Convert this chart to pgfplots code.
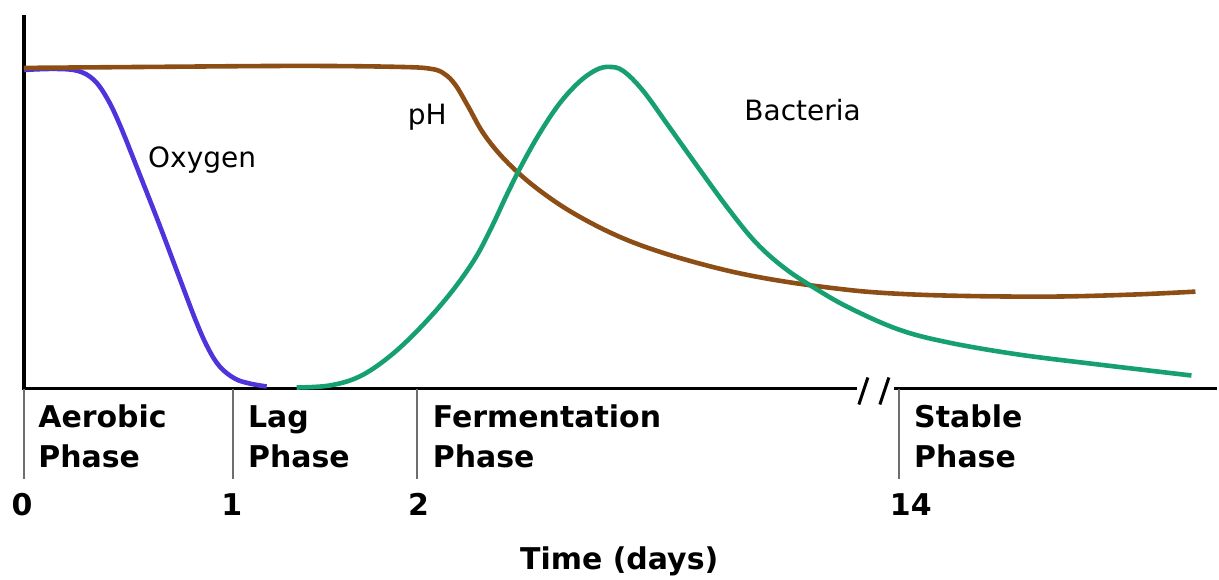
\documentclass[border=0pt]{standalone}
\usepackage{pgfplots}
\pgfplotsset{compat=1.18}
\usepackage{fontspec}
\setmainfont{DejaVu Sans}
\definecolor{oxy}{RGB}{78,52,218}
\definecolor{phc}{RGB}{140,78,20}
\definecolor{bac}{RGB}{22,160,112}
\definecolor{tickg}{RGB}{110,110,110}
\begin{document}
\begin{tikzpicture}
\begin{axis}[
  scale only axis, width=609.5pt, height=290pt,
  xmin=0, xmax=1219, ymin=-192, ymax=388,
  hide axis, clip=false,
]
\path (axis cs:0,-192) rectangle (axis cs:1219,388);
% axes
\draw[line width=1.6pt] (axis cs:24,373) -- (axis cs:24,-1) -- (axis cs:858,-1);
\draw[line width=1.6pt] (axis cs:895,-1) -- (axis cs:1219,-1);
\draw[line width=1.5pt] (axis cs:869,10) -- (axis cs:860,-17);
\draw[line width=1.5pt] (axis cs:890,10) -- (axis cs:881,-17);
% ticks
\draw[tickg, line width=1pt] (axis cs:24,-2) -- (axis cs:24,-92);
\draw[tickg, line width=1pt] (axis cs:233,-2) -- (axis cs:233,-92);
\draw[tickg, line width=1pt] (axis cs:418,-2) -- (axis cs:418,-92);
\draw[tickg, line width=1pt] (axis cs:900,-2) -- (axis cs:900,-92);
% curves
\addplot[oxy, line width=2.3pt, smooth, tension=0.6] coordinates {
(24,318)(55,319)(78,317)(94,308)(107,290)(120,263)(140,213)(160,162)(180,109)(196,67)(208,40)(220,21)(235,9)(250,4)(267,1)
};
\addplot[phc, line width=2.3pt, smooth, tension=0.6] coordinates {
(24,320)(150,321)(300,322)(400,321)(432,319)(445,314)(456,303)(469,281)(483,256)(500,234)(520,214)(542,196)(570,177)(605,158)(640,143)(683,129)(733,116)(780,107)(830,100)(880,95)(950,92)(1050,91)(1133,93)(1197,96)
};
\addplot[bac, line width=2.3pt, smooth, tension=0.6] coordinates {
(297,0)(330,2)(360,11)(390,31)(420,59)(450,93)(475,128)(492,160)(507,192)(522,222)(540,254)(560,284)(580,306)(597,318)(610,321)(624,317)(644,297)(670,261)(700,219)(730,178)(757,145)(785,120)(815,100)(850,80)(900,58)(950,45)(1020,33)(1100,23)(1193,12)
};
% curve labels
\node[font=\fontsize{14}{17}\selectfont, anchor=west, inner sep=0] at (axis cs:148,228) {Oxygen};
\node[font=\fontsize{14}{17}\selectfont, anchor=west, inner sep=0] at (axis cs:408,271) {pH};
\node[font=\fontsize{14}{17}\selectfont, anchor=west, inner sep=0] at (axis cs:745,278) {Bacteria};
% phase labels
\node[font=\fontsize{15}{20}\selectfont\bfseries, anchor=west, inner sep=0, align=left] at (axis cs:38,-49) {Aerobic\\Phase};
\node[font=\fontsize{15}{20}\selectfont\bfseries, anchor=west, inner sep=0, align=left] at (axis cs:248,-49) {Lag\\Phase};
\node[font=\fontsize{15}{20}\selectfont\bfseries, anchor=west, inner sep=0, align=left] at (axis cs:433,-49) {Fermentation\\Phase};
\node[font=\fontsize{15}{20}\selectfont\bfseries, anchor=west, inner sep=0, align=left] at (axis cs:915,-49) {Stable\\Phase};
% numbers
\node[font=\fontsize{15}{18}\selectfont\bfseries, inner sep=0] at (axis cs:22,-117) {0};
\node[font=\fontsize{15}{18}\selectfont\bfseries, inner sep=0] at (axis cs:232,-117) {1};
\node[font=\fontsize{15}{18}\selectfont\bfseries, inner sep=0] at (axis cs:419,-117) {2};
\node[font=\fontsize{15}{18}\selectfont\bfseries, inner sep=0] at (axis cs:912,-117) {14};
\node[font=\fontsize{15}{18}\selectfont\bfseries, inner sep=0] at (axis cs:620,-174) {Time (days)};
\end{axis}
\end{tikzpicture}
\end{document}
